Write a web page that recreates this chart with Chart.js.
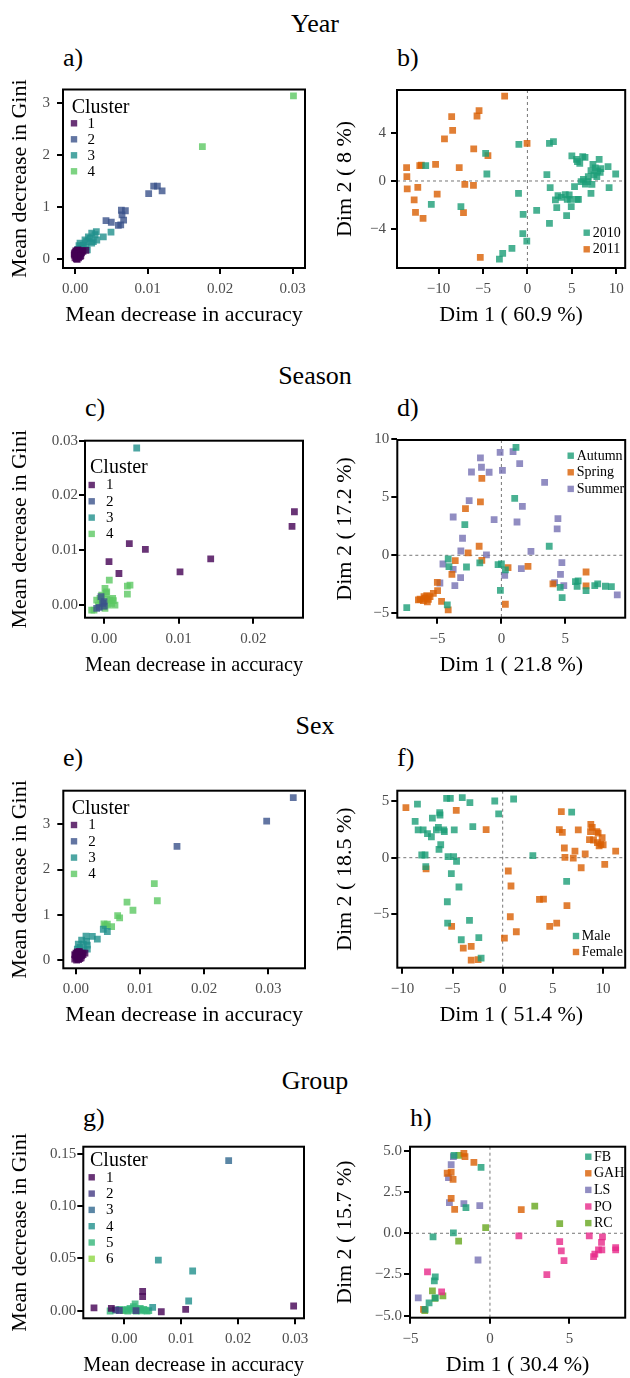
<!DOCTYPE html>
<html><head><meta charset="utf-8">
<script src="https://cdn.jsdelivr.net/npm/chart.js@4.4.0/dist/chart.umd.min.js"></script>
<style>
html,body{margin:0;padding:0;background:#fff;}
body{width:630px;height:1378px;overflow:hidden;position:relative;font-family:"Liberation Serif","DejaVu Serif",serif;}
.t{position:absolute;font-size:26px;line-height:26px;color:#000;white-space:nowrap;}
.rt{left:0;width:630px;text-align:center;}
.p{position:absolute;}
canvas{display:block;}
</style></head><body>
<div class="t rt" style="top:10.5px">Year</div>
<div class="t rt" style="top:363px">Season</div>
<div class="t rt" style="top:713px">Sex</div>
<div class="t rt" style="top:1067.5px">Group</div>
<div class="t" style="left:63px;top:45px">a)</div>
<div class="t" style="left:397px;top:45px">b)</div>
<div class="t" style="left:85px;top:395.3px">c)</div>
<div class="t" style="left:397px;top:395.3px">d)</div>
<div class="t" style="left:63px;top:745.3px">e)</div>
<div class="t" style="left:397px;top:745.3px">f)</div>
<div class="t" style="left:83px;top:1104.5px">g)</div>
<div class="t" style="left:410px;top:1104.5px">h)</div>
<script>
// ---------------- DATA ----------------
// a) Year: mean decrease in accuracy vs Gini, by cluster
const aCluster1 = [[0.0000,0.03],[0.0001,0.06],[0.0002,0.02],[0.0003,0.09],[0.0001,0.11],[0.0004,0.05],[0.0005,0.12],[0.0002,0.15],[0.0006,0.08],[0.0007,0.14],[0.0003,0.17],[0.0008,0.11],[0.0000,0.13],[-0.0001,0.08],[0.0009,0.13],[0.0005,0.03],[0.0010,0.16],[0.0004,0.18],[0.0002,0.01],[0.0006,0.17],[0.0011,0.15],[0.0015,0.17],[0.0001,0.16],[0.0007,0.05],[-0.0001,0.11],[0.0003,0.00],[0.0008,0.07]];
const aCluster2 = [[0.01015,1.26],[0.01084,1.40],[0.01135,1.40],[0.0120,1.31],[0.00639,0.94],[0.00648,0.85],[0.00694,0.93],[0.0067,0.75],[0.00597,0.65],[0.00427,0.74],[0.0050,0.71],[0.0063,0.66]];
const aCluster3 = [[0.00496,0.52],[0.0039,0.43],[0.00294,0.53],[0.00276,0.47],[0.0023,0.50],[0.00184,0.43],[0.00138,0.37],[0.00069,0.31],[0.00055,0.26],[0.00115,0.27],[0.0016,0.34],[0.00207,0.40],[0.00253,0.34],[0.00092,0.21],[0.0030,0.37],[0.00152,0.24],[0.0023,0.31],[0.00037,0.19],[0.0017,0.18]];
const aCluster4 = [[0.0301,3.13],[0.01755,2.16]];
const aXTicks = [0, 0.01, 0.02, 0.03], aXLabels = ['0.00','0.01','0.02','0.03'];
const aYTicks = [0, 1, 2, 3], aYLabels = ['0','1','2','3'];

// b) Year PCA
const b2010 = [[-11.44,1.27],[-4.70,2.29],[-4.56,0.58],[-10.81,-1.93],[-7.48,-2.12],[-0.96,3.03],[-1.0,-1.02],[-0.48,-2.76],[-0.52,-4.36],[-0.07,-4.97],[-1.74,-5.57],[-2.78,-5.99],[-3.15,-6.46],[1.04,-2.43],[2.19,0.52],[2.48,3.12],[2.93,3.26],[2.56,-0.55],[2.48,-3.50],[3.44,-1.21],[3.15,-1.57],[3.30,-2.21],[3.81,-1.35],[4.26,-1.13],[4.70,-1.16],[4.48,-1.52],[4.93,-2.12],[4.41,-2.87],[5.30,-0.47],[4.85,-1.52],[5.0,2.07],[5.52,1.79],[5.63,1.60],[5.89,1.46],[6.22,2.01],[6.48,1.96],[5.59,-1.52],[5.74,-1.52],[6.04,-0.06],[6.30,0.14],[6.52,-0.25],[6.85,0.36],[7.15,0.86],[7.37,1.38],[7.15,-1.02],[7.26,-0.28],[7.48,0.50],[7.63,1.08],[7.89,0.83],[8.07,1.79],[8.19,0.72],[8.26,1.02],[7.81,0.36],[9.07,1.19],[9.93,0.58],[9.19,-0.55],[6.78,-0.06]];
const b2011 = [[-2.56,7.03],[-5.44,5.82],[-5.67,5.38],[-8.52,5.32],[-8.41,4.19],[-9.33,3.48],[-6.04,2.65],[-4.44,2.10],[-0.04,3.12],[-13.59,1.10],[-13.56,0.36],[-13.52,-0.66],[-12.11,1.27],[-11.93,1.32],[-10.33,1.38],[-7.67,1.10],[-12.33,-0.52],[-7.04,-0.28],[-6.07,-0.36],[-10.15,-1.08],[-12.74,-1.57],[-12.59,-2.59],[-11.74,-3.09],[-7.19,-2.62],[-5.30,-6.32]];
const bXTicks = [-10,-5,0,5,10], bXLabels = ['\u221210','\u22125','0','5','10'];
const bYTicks = [-4,0,4], bYLabels = ['\u22124','0','4'];

// c) Season importance
const cCluster1 = [[0.0255,0.01703],[0.02518,0.01436],[0.01429,0.00842],[0.01018,0.00606],[0.00554,0.01018],[0.00339,0.01121],[0.00067,0.00794],[0.0020,0.00576]];
const cCluster2 = [[-0.0004,0.00152],[0.0000,0.0006],[0.00004,-0.00018],[-0.00098,-0.00061],[-0.00063,-0.00042],[-0.00018,0.0003]];
const cCluster3 = [[0.00438,0.02867]];
const cCluster4 = [[0.00071,0.00455],[0.00348,0.00364],[0.00313,0.00345],[0.00313,0.0020],[0.00013,0.00303],[0.00027,0.00212],[-0.00054,0.00121],[-0.00098,0.00091],[0.00036,0.00103],[0.0008,0.00091],[0.00125,0.00079],[-0.00134,-0.00091],[-0.00165,-0.00091],[-0.00031,0.0003],[0.00058,0.0],[0.00103,0.0003],[-0.00009,-0.0003],[-0.00076,0.0],[0.00013,-0.00061],[0.00116,0.00121],[-0.00031,0.00182],[0.00036,0.00242],[0.00147,0.0]];
const cXTicks = [0, 0.01, 0.02], cXLabels = ['0.00','0.01','0.02'];
const cYTicks = [0, 0.01, 0.02, 0.03], cYLabels = ['0.00','0.01','0.02','0.03'];

// d) Season PCA
const dAutumn = [[1.14,9.31],[1.04,4.91],[-2.86,2.64],[3.74,0.78],[-4.16,-0.32],[-4.10,-0.98],[-2.73,-1.01],[-1.69,-0.66],[-0.26,-0.80],[0.0,-0.75],[0.31,-1.26],[-0.08,-3.02],[-4.23,-4.28],[-7.40,-4.51],[4.60,-2.76],[4.75,-3.65],[5.79,-2.27],[5.92,-2.67],[6.0,-2.21],[6.62,-3.05],[7.30,-2.61],[7.53,-2.47],[8.13,-2.67],[8.60,-2.70]];
const dSpring = [[-1.53,6.64],[-1.64,4.60],[-2.81,4.02],[-1.74,0.78],[-2.60,0.20],[-1.53,-0.43],[-3.61,-0.46],[-3.87,-1.64],[0.52,-1.06],[2.08,-0.95],[0.31,-4.22],[-5.01,-2.33],[-4.99,-3.05],[-5.32,-3.28],[-5.58,-3.56],[-5.84,-3.48],[-6.05,-3.56],[-6.36,-3.79],[-6.49,-3.85],[-6.10,-3.91],[-5.79,-4.02],[-5.97,-3.71],[-5.71,-3.79],[-4.68,-3.97],[-4.16,-4.71],[4.03,-2.47],[6.62,-1.44],[6.62,-2.64]];
const dSummer = [[-0.10,8.88],[0.91,8.94],[-1.64,8.39],[-1.56,7.59],[-2.34,7.18],[-0.96,7.16],[0.08,7.33],[1.43,7.90],[3.38,6.29],[-2.52,4.71],[1.64,4.22],[-3.77,3.30],[-0.57,3.07],[1.22,2.87],[4.42,3.16],[4.36,2.27],[-3.04,1.47],[-3.17,0.37],[-1.17,0.03],[2.31,0.34],[-4.57,-0.75],[-3.77,-1.21],[-3.19,-1.93],[-3.64,-2.61],[-4.81,-2.39],[0.26,-1.72],[1.56,-1.15],[4.73,-0.63],[4.62,-1.64],[4.88,-2.61],[4.16,-2.36],[9.06,-3.42]];
const dXTicks = [-5,0,5], dXLabels = ['\u22125','0','5'];
const dYTicks = [-5,0,5,10], dYLabels = ['\u22125','0','5','10'];

// e) Sex importance
const eCluster1 = [[-0.0002,0.02],[0.0000,0.06],[0.0001,0.00],[0.0002,0.10],[0.0003,0.04],[0.0004,0.13],[0.0005,0.08],[0.0006,0.16],[0.0001,0.14],[0.0007,0.11],[0.0003,0.17],[0.0008,0.14],[-0.0001,0.10],[0.0009,0.09],[0.0004,0.01],[0.0010,0.15],[0.0002,0.18],[0.0006,0.03],[0.0011,0.12],[0.0014,0.15],[0.0000,0.15],[0.0005,0.19],[-0.0002,0.12],[0.0008,0.05]];
const eCluster2 = [[0.0339,3.59],[0.02975,3.07],[0.01576,2.51]];
const eCluster3 = [[0.00426,0.68],[0.00489,0.63],[0.00333,0.46],[0.00255,0.52],[0.00156,0.53],[0.00088,0.44],[0.00166,0.41],[0.00114,0.35],[0.00036,0.35],[0.00177,0.33],[0.00177,0.24],[0.00062,0.28],[0.00125,0.22],[0.00021,0.24]];
const eCluster4 = [[0.01222,1.69],[0.01269,1.31],[0.00796,1.28],[0.00889,1.10],[0.0065,0.98],[0.00681,0.93],[0.00437,0.80],[0.00489,0.79],[0.00556,0.74],[0.00458,0.76]];
const eXTicks = [0, 0.01, 0.02, 0.03], eXLabels = ['0.00','0.01','0.02','0.03'];
const eYTicks = [0, 1, 2, 3], eYLabels = ['0','1','2','3'];

// f) Sex PCA
const fMale = [[-8.50,4.76],[-8.73,3.22],[-8.43,2.46],[-7.93,2.46],[-7.50,2.13],[-7.11,1.86],[-7.01,3.52],[-6.61,2.46],[-6.28,3.99],[-6.25,3.79],[-6.41,2.69],[-5.88,2.46],[-5.82,2.31],[-6.18,1.15],[-6.35,0.74],[-8.07,0.24],[-7.74,0.24],[-7.67,-0.80],[-5.59,5.27],[-5.22,5.27],[-4.03,5.33],[-3.27,4.88],[-0.79,5.03],[-0.40,3.88],[1.09,5.21],[-4.83,2.46],[-2.98,2.75],[-5.45,0.09],[-4.89,0.09],[-4.60,-0.33],[-5.12,-1.42],[-4.36,-2.60],[-5.52,-3.91],[-5.49,-5.80],[-3.31,-5.56],[-4.13,-7.28],[-2.38,-7.10],[-2.15,-8.91],[3.01,0.18],[6.38,-2.10],[6.88,4.05]];
const fFemale = [[-9.65,4.44],[-4.63,4.20],[-1.65,2.49],[-7.64,-1.0],[-5.09,-6.09],[-3.93,-8.02],[-3.14,-7.87],[-3.14,-9.08],[-2.45,-9.05],[0.17,-7.13],[0.56,-1.18],[0.83,-2.51],[0.76,-5.24],[1.36,-6.57],[3.67,-3.70],[4.07,-3.67],[4.69,-6.09],[5.39,-5.80],[6.41,-4.26],[5.85,4.08],[5.65,2.49],[5.95,2.25],[6.15,0.86],[6.21,0.03],[7.04,-0.03],[7.21,0.59],[7.54,2.46],[8.23,0.33],[7.83,-0.89],[8.79,2.96],[8.93,2.69],[8.76,2.31],[8.66,1.60],[9.06,1.57],[9.39,2.31],[9.52,2.19],[9.92,1.78],[9.45,1.33],[9.62,1.04],[9.79,1.18],[10.02,1.15],[10.18,-0.59],[11.27,0.59]];
const fXTicks = [-10,-5,0,5,10], fXLabels = ['\u221210','\u22125','0','5','10'];
const fYTicks = [-5,0,5], fYLabels = ['\u22125','0','5'];

// g) Group importance
const gCluster1 = [[0.02976,0.0045],[-0.00533,0.0026],[0.00322,0.0185],[0.00322,0.0134],[0.0065,-0.0010],[0.01078,0.0013],[-0.00228,0.0022]];
const gCluster2 = [[-0.00088,0.0002],[0.00205,0.0001],[-0.0015,0.0008]];
const gCluster3 = [[0.01834,0.1436]];
const gCluster4 = [[0.00598,0.0485],[0.01201,0.0380],[0.01131,0.0093],[0.00498,0.0032]];
const gCluster5 = [[-0.0025,-0.0003],[-0.0016,0.0005],[-0.0008,0.0012],[0.0004,0.0012],[0.0013,0.0004],[0.0016,0.0038],[0.0019,0.0064],[0.0025,0.0011],[0.0030,-0.0002],[0.0037,0.0006],[0.0043,0.0001],[0.0010,0.0022],[-0.0002,0.0004],[0.0028,0.0022],[0.0006,-0.0003],[0.0021,-0.0004],[0.0034,0.0012],[0.0040,-0.0004]];
const gCluster6 = [[0.00012,0.0001]];
const gXTicks = [0, 0.01, 0.02, 0.03], gXLabels = ['0.00','0.01','0.02','0.03'];
const gYTicks = [0, 0.05, 0.10, 0.15], gYLabels = ['0.00','0.05','0.10','0.15'];

// h) Group PCA
const hFB = [[-2.26,4.73],[-0.56,4.0],[-1.51,1.56],[-3.58,-0.22],[-2.30,0.02],[-3.44,-2.65],[-3.50,-2.89],[-3.83,-4.22],[-3.44,-3.92],[-4.08,-4.61]];
const hGAH = [[-1.64,4.85],[-1.57,4.65],[-1.01,4.30],[-2.69,3.64],[-2.44,3.70],[-2.32,3.27],[-2.44,2.12],[-2.22,1.45],[1.97,1.43],[-4.18,-4.61]];
const hLS = [[-2.30,4.65],[-2.44,4.16],[-2.61,3.37],[-2.55,1.86],[-1.64,1.80],[-0.64,1.68],[-0.75,-1.62],[-4.51,-3.92]];
const hPO = [[-3.93,-2.34],[-3.04,-3.56],[1.82,-0.16],[3.58,-2.51],[4.39,-0.51],[4.49,-1.07],[4.66,-1.66],[6.25,-0.16],[6.52,-1.41],[6.60,-1.27],[6.83,-1.01],[7.04,-1.01],[7.08,-0.22],[7.02,-0.55],[7.91,-0.87],[7.91,-1.01]];
const hRC = [[-1.95,4.73],[-0.27,0.34],[2.82,1.64],[4.39,0.59],[-1.97,-0.48],[-3.62,-3.49],[-2.96,-3.80],[-3.46,-3.94],[-4.10,-4.69]];
const hXTicks = [-5,0,5], hXLabels = ['\u22125','0','5'];
const hYTicks = [-5,-2.5,0,2.5,5], hYLabels = ['\u22125.0','\u22122.5','0.0','2.5','5.0'];

// ---------------- STYLE ----------------
const SERIF = '"Liberation Serif","DejaVu Serif",serif';
const VIR5 = ['#440154','#3B528B','#21908C','#5DC863'];
const VIR7 = ['#440154','#443A83','#31688E','#21908C','#35B779','#8FD744'];
const DARK2 = ['#1B9E77','#D95F02','#7570B3','#E7298A','#66A61E'];
const ALPHA = 0.8;
function rgba(hex,a){const n=parseInt(hex.slice(1),16);return `rgba(${n>>16&255},${n>>8&255},${n&255},${a})`;}

const deco = {
  id:'deco',
  beforeDatasetsDraw(chart,args,o){
    if(!o.zero) return;
    const {ctx, chartArea:a, scales:{x,y}} = chart;
    const px=x.getPixelForValue(0), py=y.getPixelForValue(0);
    ctx.save(); ctx.strokeStyle='#666'; ctx.lineWidth=0.9; ctx.setLineDash([3,3]);
    ctx.beginPath(); ctx.moveTo(px,a.top); ctx.lineTo(px,a.bottom);
    ctx.moveTo(a.left,py); ctx.lineTo(a.right,py); ctx.stroke(); ctx.restore();
  },
  afterDatasetsDraw(chart,args,o){
    const {ctx, chartArea:a} = chart;
    ctx.save();
    const L=o.legend;
    if(L){
      ctx.textBaseline='middle'; ctx.textAlign='left';
      if(L.title){ctx.fillStyle='#000';ctx.font=`20px ${SERIF}`;ctx.fillText(L.title,a.left+L.tdx,a.top+L.tdy);}
      ctx.font=`${L.size}px ${SERIF}`;
      chart.data.datasets.forEach((d,i)=>{
        const yy=a.top+L.dy0+i*L.step;
        ctx.fillStyle=d.backgroundColor;
        ctx.fillRect(a.left+L.sdx-3.2,yy-3.2,6.4,6.4);
        ctx.fillStyle='#000';
        ctx.fillText(d.label,a.left+L.xdx,yy+0.5);
      });
    }
    ctx.strokeStyle='#000'; ctx.lineWidth=2; ctx.setLineDash([]);
    ctx.strokeRect(a.left,a.top,a.right-a.left,a.bottom-a.top);
    ctx.restore();
  }
};

function panel(o){
  const wrap=document.createElement('div'); wrap.className='p';
  wrap.style.left=o.cx+'px'; wrap.style.top=o.cy+'px';
  const cv=document.createElement('canvas'); cv.width=o.cw; cv.height=o.ch;
  cv.style.width=o.cw+'px'; cv.style.height=o.ch+'px';
  wrap.appendChild(cv); document.body.appendChild(wrap);
  const datasets=o.series.map(s=>({
    label:s.label, data:s.data.map(p=>({x:p[0],y:p[1]})),
    backgroundColor:rgba(s.color,ALPHA), borderWidth:0,
    pointStyle:'rect', pointRadius:4.8, pointHoverRadius:4.8
  }));
  const axis=(ax,isX)=>({
    type:'linear', position:isX?'bottom':'left', min:ax.min, max:ax.max,
    afterBuildTicks:s=>{s.ticks=ax.ticks.map(v=>({value:v}));},
    afterFit:s=>{ if(isX) s.height=o.cy+o.ch-o.box.B; else s.width=o.box.L-o.cx; },
    grid:{display:true, drawOnChartArea:false, drawTicks:true, tickLength:6, lineWidth:2, color:'#000'},
    border:{display:false},
    ticks:{autoSkip:false, maxRotation:0, minRotation:0, padding:isX?6:ax.pad, color:'#4d4d4d',
      font:{family:SERIF,size:15}, callback:(v,i)=>ax.labels[i]},
    title:{display:true, text:ax.title, color:'#000', font:{family:SERIF,size:22,lineHeight:1.2},
      padding:isX?{top:0,bottom:6.5}:{top:6.8,bottom:0}}
  });
  new Chart(cv,{
    type:'scatter',
    data:{datasets},
    options:{
      responsive:false, animation:false, devicePixelRatio:1,
      layout:{padding:{left:0, top:o.box.T-o.cy, right:o.cx+o.cw-o.box.R, bottom:0}},
      plugins:{legend:{display:false}, tooltip:{enabled:false}, deco:{zero:o.zero, legend:o.legend}},
      scales:{x:axis(o.x,true), y:axis(o.y,false)}
    },
    plugins:[deco]
  });
}

const MDA='Mean decrease in accuracy', MDG='Mean decrease in Gini';
const LC=0, RC=325, LW=315, RW=305;

panel({cx:LC,cy:40,cw:LW,ch:295, box:{L:63,T:89.5,R:305,B:268},
  x:{min:-0.001654,max:0.03169,ticks:aXTicks,labels:aXLabels,title:MDA},
  y:{min:-0.1667,max:3.253,ticks:aYTicks,labels:aYLabels,title:MDG,pad:7},
  series:[{label:'1',data:aCluster1,color:VIR5[0]},{label:'2',data:aCluster2,color:VIR5[1]},{label:'3',data:aCluster3,color:VIR5[2]},{label:'4',data:aCluster4,color:VIR5[3]}],
  legend:{title:'Cluster', tdx:8.7, tdy:18, sdx:11, xdx:24.5, dy0:33.8, step:16, size:15}});

panel({cx:RC,cy:40,cw:RW,ch:295, box:{L:397,T:90,R:628,B:268}, zero:true,
  x:{min:-14.67,max:11.0,ticks:bXTicks,labels:bXLabels,title:'Dim 1 ( 60.9 %)'},
  y:{min:-7.20,max:7.53,ticks:bYTicks,labels:bYLabels,title:'Dim 2 ( 8 %)',pad:5},
  series:[{label:'2010',data:b2010,color:DARK2[0]},{label:'2011',data:b2011,color:DARK2[1]}],
  legend:{sdx:189.7, xdx:195.7, dy0:142.7, step:16.6, size:14}});

panel({cx:LC,cy:390,cw:LW,ch:295, box:{L:85,T:440.7,R:303,B:617.7},
  x:{min:-0.002545,max:0.02665,ticks:cXTicks,labels:cXLabels,title:MDA},
  y:{min:-0.00231,max:0.0300,ticks:cYTicks,labels:cYLabels,title:MDG,pad:1},
  series:[{label:'1',data:cCluster1,color:VIR5[0]},{label:'2',data:cCluster2,color:VIR5[1]},{label:'3',data:cCluster3,color:VIR5[2]},{label:'4',data:cCluster4,color:VIR5[3]}],
  legend:{title:'Cluster', tdx:5, tdy:26.6, sdx:6.7, xdx:21, dy0:44.3, step:16.3, size:15}});

panel({cx:RC,cy:390,cw:RW,ch:295, box:{L:397.3,T:440,R:626,B:617.7}, zero:true,
  x:{min:-8.14,max:9.68,ticks:dXTicks,labels:dXLabels,title:'Dim 1 ( 21.8 %)'},
  y:{min:-5.38,max:9.94,ticks:dYTicks,labels:dYLabels,title:'Dim 2 ( 17.2 %)',pad:2},
  series:[{label:'Autumn',data:dAutumn,color:DARK2[0]},{label:'Spring',data:dSpring,color:DARK2[1]},{label:'Summer',data:dSummer,color:DARK2[2]}],
  legend:{sdx:173.4, xdx:179.4, dy0:15.7, step:16.6, size:14}});

panel({cx:LC,cy:740,cw:LW,ch:295, box:{L:63.3,T:790.7,R:305,B:968.3},
  x:{min:-0.00198,max:0.03573,ticks:eXTicks,labels:eXLabels,title:MDA},
  y:{min:-0.1835,max:3.743,ticks:eYTicks,labels:eYLabels,title:MDG,pad:7},
  series:[{label:'1',data:eCluster1,color:VIR5[0]},{label:'2',data:eCluster2,color:VIR5[1]},{label:'3',data:eCluster3,color:VIR5[2]},{label:'4',data:eCluster4,color:VIR5[3]}],
  legend:{title:'Cluster', tdx:8.4, tdy:18.3, sdx:10.7, xdx:25, dy0:34.3, step:16.3, size:15}});

panel({cx:RC,cy:740,cw:RW,ch:295, box:{L:397.3,T:790.7,R:628,B:967.7}, zero:true,
  x:{min:-10.51,max:12.22,ticks:fXTicks,labels:fXLabels,title:'Dim 1 ( 51.4 %)'},
  y:{min:-9.76,max:5.945,ticks:fYTicks,labels:fYLabels,title:'Dim 2 ( 18.5 %)',pad:2},
  series:[{label:'Male',data:fMale,color:DARK2[0]},{label:'Female',data:fFemale,color:DARK2[1]}],
  legend:{sdx:178.7, xdx:184.4, dy0:145.3, step:16, size:14}});

panel({cx:LC,cy:1095,cw:LW,ch:290, box:{L:83.3,T:1146.7,R:304,B:1318.3},
  x:{min:-0.00721,max:0.03158,ticks:gXTicks,labels:gXLabels,title:MDA},
  y:{min:-0.00728,max:0.157,ticks:gYTicks,labels:gYLabels,title:MDG,pad:1},
  series:[{label:'1',data:gCluster1,color:VIR7[0]},{label:'2',data:gCluster2,color:VIR7[1]},{label:'3',data:gCluster3,color:VIR7[2]},{label:'4',data:gCluster4,color:VIR7[3]},{label:'5',data:gCluster5,color:VIR7[4]},{label:'6',data:gCluster6,color:VIR7[5]}],
  legend:{title:'Cluster', tdx:6.7, tdy:14.3, sdx:8.4, xdx:22.7, dy0:30.6, step:16.3, size:15}});

panel({cx:RC,cy:1095,cw:RW,ch:290, box:{L:410,T:1146.7,R:628,B:1317.7}, zero:true,
  x:{min:-5.03,max:8.51,ticks:hXTicks,labels:hXLabels,title:'Dim 1 ( 30.4 %)'},
  y:{min:-5.12,max:5.25,ticks:hYTicks,labels:hYLabels,title:'Dim 2 ( 15.7 %)',pad:2},
  series:[{label:'FB',data:hFB,color:DARK2[0]},{label:'GAH',data:hGAH,color:DARK2[1]},{label:'LS',data:hLS,color:DARK2[2]},{label:'PO',data:hPO,color:DARK2[3]},{label:'RC',data:hRC,color:DARK2[4]}],
  legend:{sdx:178.3, xdx:184, dy0:10, step:16.6, size:14}});
</script>
</body></html>
